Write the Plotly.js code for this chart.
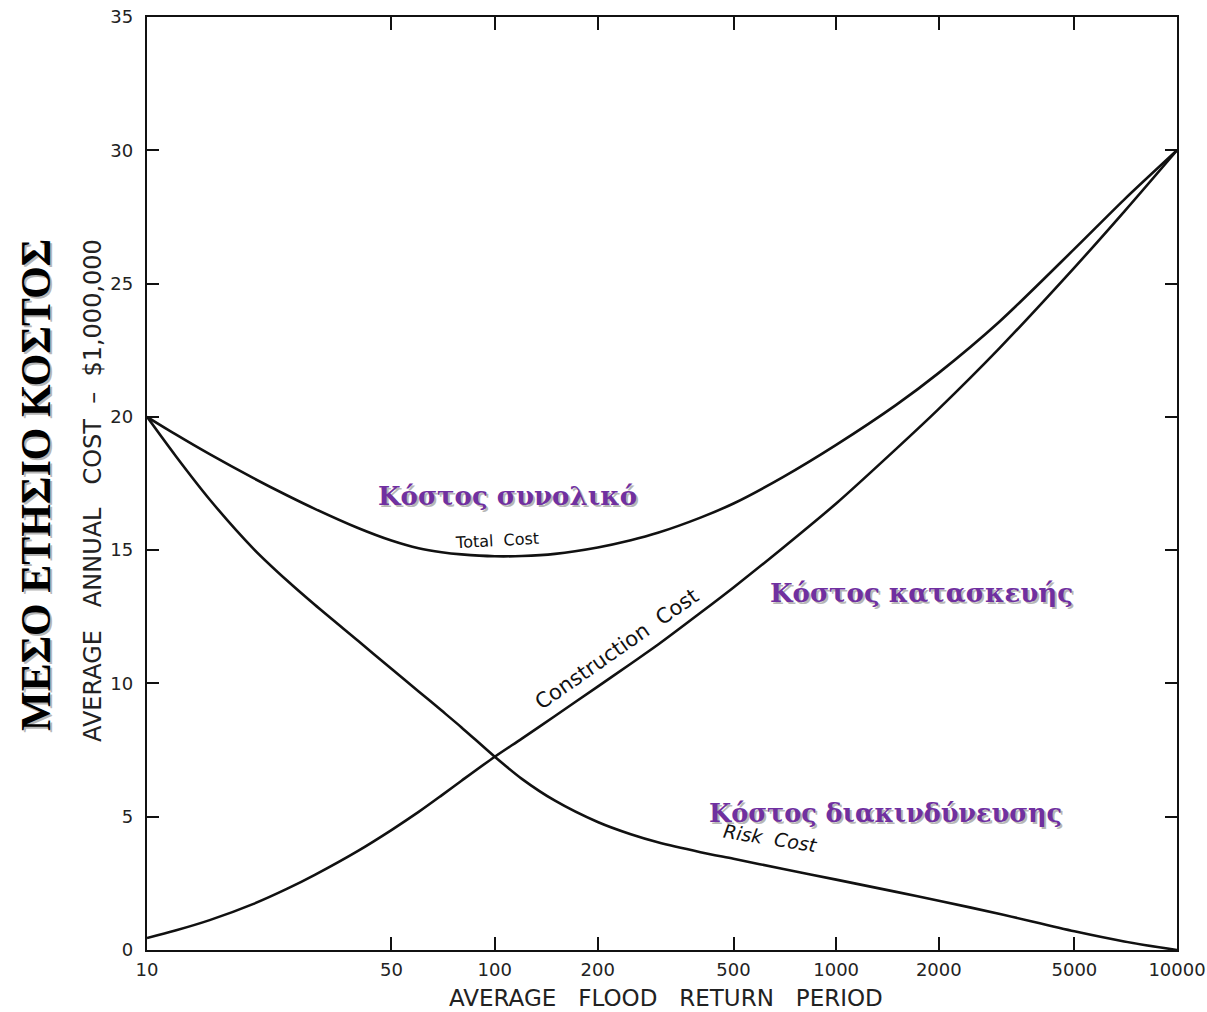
<!DOCTYPE html>
<html>
<head>
<meta charset="utf-8">
<script src="https://cdn.plot.ly/plotly-3.0.1.min.js"></script>
<style>
html,body{margin:0;padding:0;background:#fff;}
#chart{width:1207px;height:1012px;}
</style>
</head>
<body>
<div id="chart"></div>
<script>
// Data (annual cost in $1,000,000 vs return period, years)
const returnPeriods    = [10, 12, 15, 20, 25, 30, 40, 50, 60, 70, 80, 100, 120, 150, 200, 250, 300, 400, 500, 700, 1000, 1500, 2000, 3000, 5000, 7000, 10000];
const totalCost        = [20.0, 19.35, 18.6, 17.7, 17.05, 16.55, 15.83, 15.36, 15.07, 14.92, 14.84, 14.77, 14.78, 14.86, 15.1, 15.37, 15.65, 16.22, 16.75, 17.75, 18.95, 20.45, 21.65, 23.55, 26.3, 28.15, 30.0];
const constructionCost = [0.45, 0.73, 1.12, 1.73, 2.3, 2.82, 3.72, 4.5, 5.18, 5.8, 6.35, 7.25, 7.93, 8.78, 9.88, 10.74, 11.45, 12.65, 13.6, 15.1, 16.75, 18.8, 20.3, 22.55, 25.6, 27.7, 30.0];
const riskCost         = [20.0, 18.55, 16.9, 15.05, 13.85, 12.95, 11.6, 10.55, 9.7, 8.98, 8.35, 7.25, 6.42, 5.6, 4.8, 4.34, 4.04, 3.67, 3.42, 3.04, 2.64, 2.18, 1.85, 1.36, 0.7, 0.32, 0.0];
const xTickPeriods     = [10, 50, 100, 200, 500, 1000, 2000, 5000, 10000];
const xTickLabels      = ["10", "50", "100", "200", "500", "1000", "2000", "5000", "10000"];

// Extreme-value (Gumbel) probability scale for the return period axis
const gumbel = T => -Math.log(-Math.log(1 - 1 / T));

const lineStyle = {color: '#111', width: 2.6, shape: 'spline', smoothing: 0.8};
const traces = [
  {x: returnPeriods.map(gumbel), y: totalCost, mode: 'lines', line: lineStyle, name: 'Total Cost', hoverinfo: 'skip'},
  {x: returnPeriods.map(gumbel), y: constructionCost, mode: 'lines', line: lineStyle, name: 'Construction Cost', hoverinfo: 'skip'},
  {x: returnPeriods.map(gumbel), y: riskCost, mode: 'lines', line: lineStyle, name: 'Risk Cost', hoverinfo: 'skip'}
];

const L = 147, R = 1177, T0 = 17, B = 950;
const px = v => (v - L) / (R - L);
const py = v => (B - v) / (B - T0);

const purple = '#7030A0';
const timesBold = 'Liberation Serif, Times New Roman, serif';
const wideSerif = 'DejaVu Serif, serif';
const hand = 'DejaVu Sans, sans-serif';
const sp = n => '\u00a0'.repeat(n);

function shadowed(text, x, y, size, color, angle, family) {
  const base = {xref: 'paper', yref: 'paper', x: x, y: y, xanchor: 'center', yanchor: 'middle',
                showarrow: false, textangle: angle || 0, text: '<b>' + text + '</b>'};
  return [
    Object.assign({}, base, {font: {family: family, size: size, color: 'rgba(110,110,110,0.5)'}, xshift: 2, yshift: -2}),
    Object.assign({}, base, {font: {family: family, size: size, color: color}})
  ];
}

const annotations = [].concat(
  shadowed('ΜΕΣΟ ΕΤΗΣΙΟ ΚΟΣΤΟΣ', px(36), py(485), 42, '#000', -90, timesBold),
  shadowed('Κόστος συνολικό', px(507), py(496), 26, purple, 0, wideSerif),
  shadowed('Κόστος κατασκευής', px(921), py(593), 26, purple, 0, wideSerif),
  shadowed('Κόστος διακινδύνευσης', px(885), py(813), 25.5, purple, 0, wideSerif),
  [
    {xref: 'paper', yref: 'paper', x: px(93), y: py(491), xanchor: 'center', yanchor: 'middle', showarrow: false,
     textangle: -90, text: 'AVERAGE' + sp(3) + 'ANNUAL' + sp(3) + 'COST' + sp(2) + '–' + sp(2) + '$1,000,000',
     font: {family: hand, size: 24, color: '#222'}},
    {xref: 'paper', yref: 'paper', x: px(666), y: py(998), xanchor: 'center', yanchor: 'middle', showarrow: false,
     text: 'AVERAGE' + sp(3) + 'FLOOD' + sp(3) + 'RETURN' + sp(3) + 'PERIOD', font: {family: hand, size: 23, color: '#222'}},
    {xref: 'paper', yref: 'paper', x: px(497), y: py(540), xanchor: 'center', yanchor: 'middle', showarrow: false,
     textangle: -3, text: 'Total' + sp(2) + 'Cost', font: {family: hand, size: 16, color: '#111'}},
    {xref: 'paper', yref: 'paper', x: px(617), y: py(649), xanchor: 'center', yanchor: 'middle', showarrow: false,
     textangle: -35, text: 'Construction' + sp(2) + 'Cost', font: {family: hand, size: 21, color: '#111'}},
    {xref: 'paper', yref: 'paper', x: px(770), y: py(838), xanchor: 'center', yanchor: 'middle', showarrow: false,
     textangle: 9, text: '<i>Risk' + sp(2) + 'Cost</i>', font: {family: hand, size: 19, color: '#111'}}
  ]
);

const layout = {
  width: 1207, height: 1012,
  margin: {l: L, r: 1207 - R, t: T0, b: 1012 - B, pad: 0},
  paper_bgcolor: '#fff', plot_bgcolor: '#fff',
  showlegend: false,
  xaxis: {
    type: 'linear', range: [gumbel(10), gumbel(10000)],
    tickmode: 'array', tickvals: xTickPeriods.map(gumbel), ticktext: xTickLabels,
    ticks: 'inside', ticklen: 13, tickwidth: 2, tickcolor: '#111',
    showline: true, linecolor: '#111', linewidth: 2.2, mirror: 'ticks',
    showgrid: false, zeroline: false, fixedrange: true,
    ticklabelstandoff: 2,
    tickfont: {family: hand, size: 18, color: '#222'}
  },
  yaxis: {
    range: [0, 35], tickmode: 'linear', tick0: 0, dtick: 5,
    ticks: 'inside', ticklen: 12, tickwidth: 2, tickcolor: '#111',
    showline: true, linecolor: '#111', linewidth: 2.2, mirror: 'ticks',
    showgrid: false, zeroline: false, fixedrange: true,
    ticklabelstandoff: 8,
    tickfont: {family: hand, size: 18, color: '#222'}
  },
  annotations: annotations
};

Plotly.newPlot('chart', traces, layout, {displayModeBar: false, staticPlot: true});
</script>
</body>
</html>
